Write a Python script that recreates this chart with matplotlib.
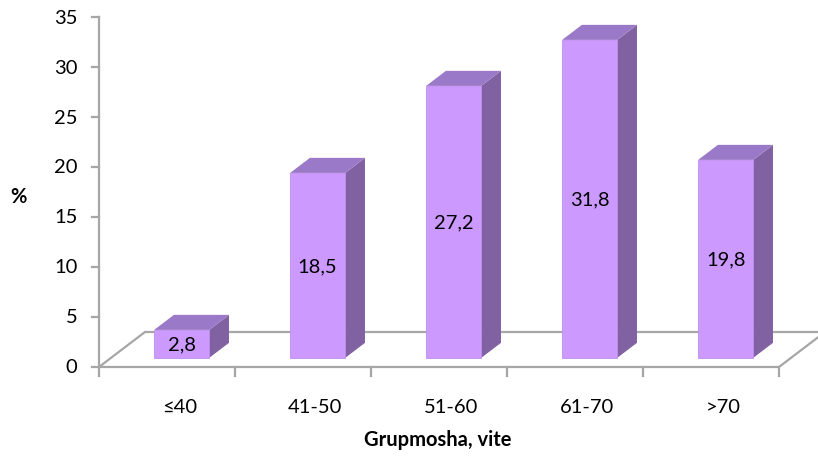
import matplotlib.pyplot as plt
import numpy as np
from matplotlib.patches import Polygon

plt.rcParams['font.family'] = ['Lato', 'DejaVu Sans']

categories = ['≤40', '41-50', '51-60', '61-70', '>70']
values = [2.8, 18.5, 27.2, 31.8, 19.8]
value_labels = ['2,8', '18,5', '27,2', '31,8', '19,8']

# depth of the 3D floor, in (category units, value units)
DEPTH_X = 0.338
DEPTH_Y = 3.5
# bar sits between these depth fractions
BAR_FRONT = 0.26
BAR_BACK = 0.69
BAR_W = 0.405

FRONT = '#CC99FF'
TOP = '#9B79C9'
SIDE = '#8062A2'
GRID = '#A6A6A6'
FS = 14.5

fig = plt.figure(figsize=(8.18, 4.6), dpi=100)
ax = fig.add_axes([99 / 818, 92 / 460, 680 / 818, 350 / 460])
ax.set_xlim(-0.5, 4.5)
ax.set_ylim(0, 35)
ax.axis('off')

# floor
floor = [(-0.5, 0), (4.5, 0), (4.5 + DEPTH_X, DEPTH_Y), (-0.5 + DEPTH_X, DEPTH_Y)]
ax.add_patch(Polygon(floor, closed=True, fill=False, edgecolor=GRID, lw=1.6, clip_on=False))

# y axis with ticks
ax.plot([-0.5, -0.5], [0, 35], color=GRID, lw=1.6, clip_on=False)
for t in range(0, 36, 5):
    ax.plot([-0.55, -0.5], [t, t], color=GRID, lw=1.6, clip_on=False)
    ax.text(-0.66, t, str(t), ha='right', va='center', fontsize=FS, color='#000000')

# x ticks on the front edge
for i in range(len(categories) + 1):
    ax.plot([i - 0.5, i - 0.5], [0, -0.9], color=GRID, lw=1.6, clip_on=False)

for i, (cat, v, lab) in enumerate(zip(categories, values, value_labels)):
    ox0 = BAR_FRONT * DEPTH_X + 0.02
    oy0 = BAR_FRONT * DEPTH_Y
    dx = (BAR_BACK - BAR_FRONT) * DEPTH_X
    dy = (BAR_BACK - BAR_FRONT) * DEPTH_Y
    x0 = i - BAR_W / 2 + ox0
    x1 = i + BAR_W / 2 + ox0
    yb = oy0
    yt = yb + v
    side = [(x1, yb), (x1 + dx, yb + dy), (x1 + dx, yt + dy), (x1, yt)]
    top = [(x0, yt), (x1, yt), (x1 + dx, yt + dy), (x0 + dx, yt + dy)]
    ax.add_patch(Polygon(side, closed=True, facecolor=SIDE, edgecolor='none', clip_on=False))
    ax.add_patch(Polygon(top, closed=True, facecolor=TOP, edgecolor='none', clip_on=False))
    ax.add_patch(Polygon([(x0, yb), (x1, yb), (x1, yt), (x0, yt)], closed=True,
                         facecolor=FRONT, edgecolor='#BF8CF0', lw=0.6, clip_on=False))
    ax.text((x0 + x1) / 2, yb + v / 2, lab, ha='center', va='center', fontsize=FS)
    ax.text(i + 0.09, -4.0, cat, ha='center', va='center', fontsize=FS)

ax.text(1.99, -7.2, 'Grupmosha, vite', ha='center', va='center', fontsize=FS, fontweight='bold')
fig.text(18 / 818, 1 - 197 / 460, '%', ha='center', va='center', fontsize=FS, fontweight='bold')

fig.savefig('out.png', dpi=100)
